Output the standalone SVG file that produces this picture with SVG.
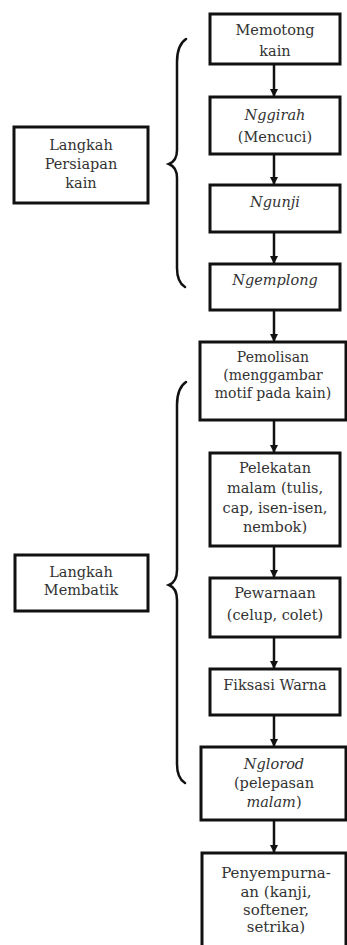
<svg xmlns="http://www.w3.org/2000/svg" width="347" height="945" viewBox="0 0 347 945">
<style>
.box{fill:#fff;stroke:#111;stroke-width:3}
.t{font-family:"DejaVu Serif","Liberation Serif",serif;font-size:14.5px;fill:#333;text-anchor:middle}
.i{font-style:italic}
.c{fill:none;stroke:#111;stroke-width:2.5}
.b{fill:none;stroke:#111;stroke-width:2.5;stroke-linecap:round}
</style>
<defs>
<marker id="ah" markerWidth="8" markerHeight="8" refX="7" refY="4" orient="auto" markerUnits="userSpaceOnUse">
<path d="M0,0 L8,4 L0,8 Z" fill="#111"/>
</marker>
</defs>
<rect width="347" height="945" fill="#fff"/>
<g id="connectors">
<line class="c" x1="274" y1="64" x2="274" y2="96" marker-end="url(#ah)"/>
<line class="c" x1="274" y1="154" x2="274" y2="184" marker-end="url(#ah)"/>
<line class="c" x1="274" y1="232" x2="274" y2="263" marker-end="url(#ah)"/>
<line class="c" x1="274" y1="310" x2="274" y2="341" marker-end="url(#ah)"/>
<line class="c" x1="274" y1="420" x2="274" y2="452" marker-end="url(#ah)"/>
<line class="c" x1="274" y1="546" x2="274" y2="577" marker-end="url(#ah)"/>
<line class="c" x1="274" y1="637" x2="274" y2="668" marker-end="url(#ah)"/>
<line class="c" x1="274" y1="715" x2="274" y2="746" marker-end="url(#ah)"/>
<line class="c" x1="274" y1="820" x2="274" y2="852" marker-end="url(#ah)"/>
<path class="b" d="M186,39 C180,43 177,51 177,62 L177,150 C177,158 174,162 169,164 C174,166 177,170 177,178 L177,268 C177,278 180,284 185,287"/>
<path class="b" d="M186,382 C180,386 177,394 177,405 L177,570 C177,578 174,583 169,585 C174,587 177,592 177,600 L177,764 C177,774 180,780 185,783"/>
</g>
<g id="n1"><rect class="box" x="210" y="14" width="130" height="50"/>
<text class="t" x="275" y="35">Memotong</text><text class="t" x="275" y="56">kain</text></g>
<g id="n2"><rect class="box" x="210" y="97" width="130" height="57"/>
<text class="t i" x="275" y="120">Nggirah</text><text class="t" x="275" y="142">(Mencuci)</text></g>
<g id="n3"><rect class="box" x="210" y="185" width="130" height="47"/>
<text class="t i" x="275" y="207">Ngunji</text></g>
<g id="n4"><rect class="box" x="210" y="264" width="130" height="46"/>
<text class="t i" x="275" y="285">Ngemplong</text></g>
<g id="n5"><rect class="box" x="200" y="342" width="146" height="78"/>
<text class="t" x="273" y="362" style="font-size:14px">Pemolisan</text><text class="t" x="273" y="380" style="font-size:14px">(menggambar</text><text class="t" x="273" y="398" style="font-size:14px">motif pada kain)</text></g>
<g id="n6"><rect class="box" x="210" y="453" width="130" height="93"/>
<text class="t" x="275" y="473">Pelekatan</text><text class="t" x="275" y="493">malam (tulis,</text><text class="t" x="275" y="513">cap, isen-isen,</text><text class="t" x="275" y="532">nembok)</text></g>
<g id="n7"><rect class="box" x="210" y="578" width="130" height="59"/>
<text class="t" x="275" y="598">Pewarnaan</text><text class="t" x="275" y="620">(celup, colet)</text></g>
<g id="n8"><rect class="box" x="210" y="669" width="130" height="46"/>
<text class="t" x="275" y="690">Fiksasi Warna</text></g>
<g id="n9"><rect class="box" x="201" y="747" width="145" height="73"/>
<text class="t i" x="274" y="769">Nglorod</text><text class="t" x="274" y="788">(pelepasan</text><text class="t" x="274" y="807"><tspan class="i">malam</tspan>)</text></g>
<g id="n10"><rect class="box" x="202" y="853" width="144" height="96"/>
<text class="t" x="276" y="878" style="font-size:15px">Penyempurna-</text><text class="t" x="276" y="897" style="font-size:15px">an (kanji,</text><text class="t" x="276" y="915" style="font-size:15px">softener,</text><text class="t" x="276" y="932" style="font-size:15px">setrika)</text></g>
<g id="left1"><rect class="box" x="14" y="127" width="134" height="76"/>
<text class="t" x="81" y="150">Langkah</text><text class="t" x="81" y="169">Persiapan</text><text class="t" x="81" y="188">kain</text></g>
<g id="left2"><rect class="box" x="15" y="555" width="133" height="56"/>
<text class="t" x="81" y="577">Langkah</text><text class="t" x="81" y="595">Membatik</text></g>
</svg>
